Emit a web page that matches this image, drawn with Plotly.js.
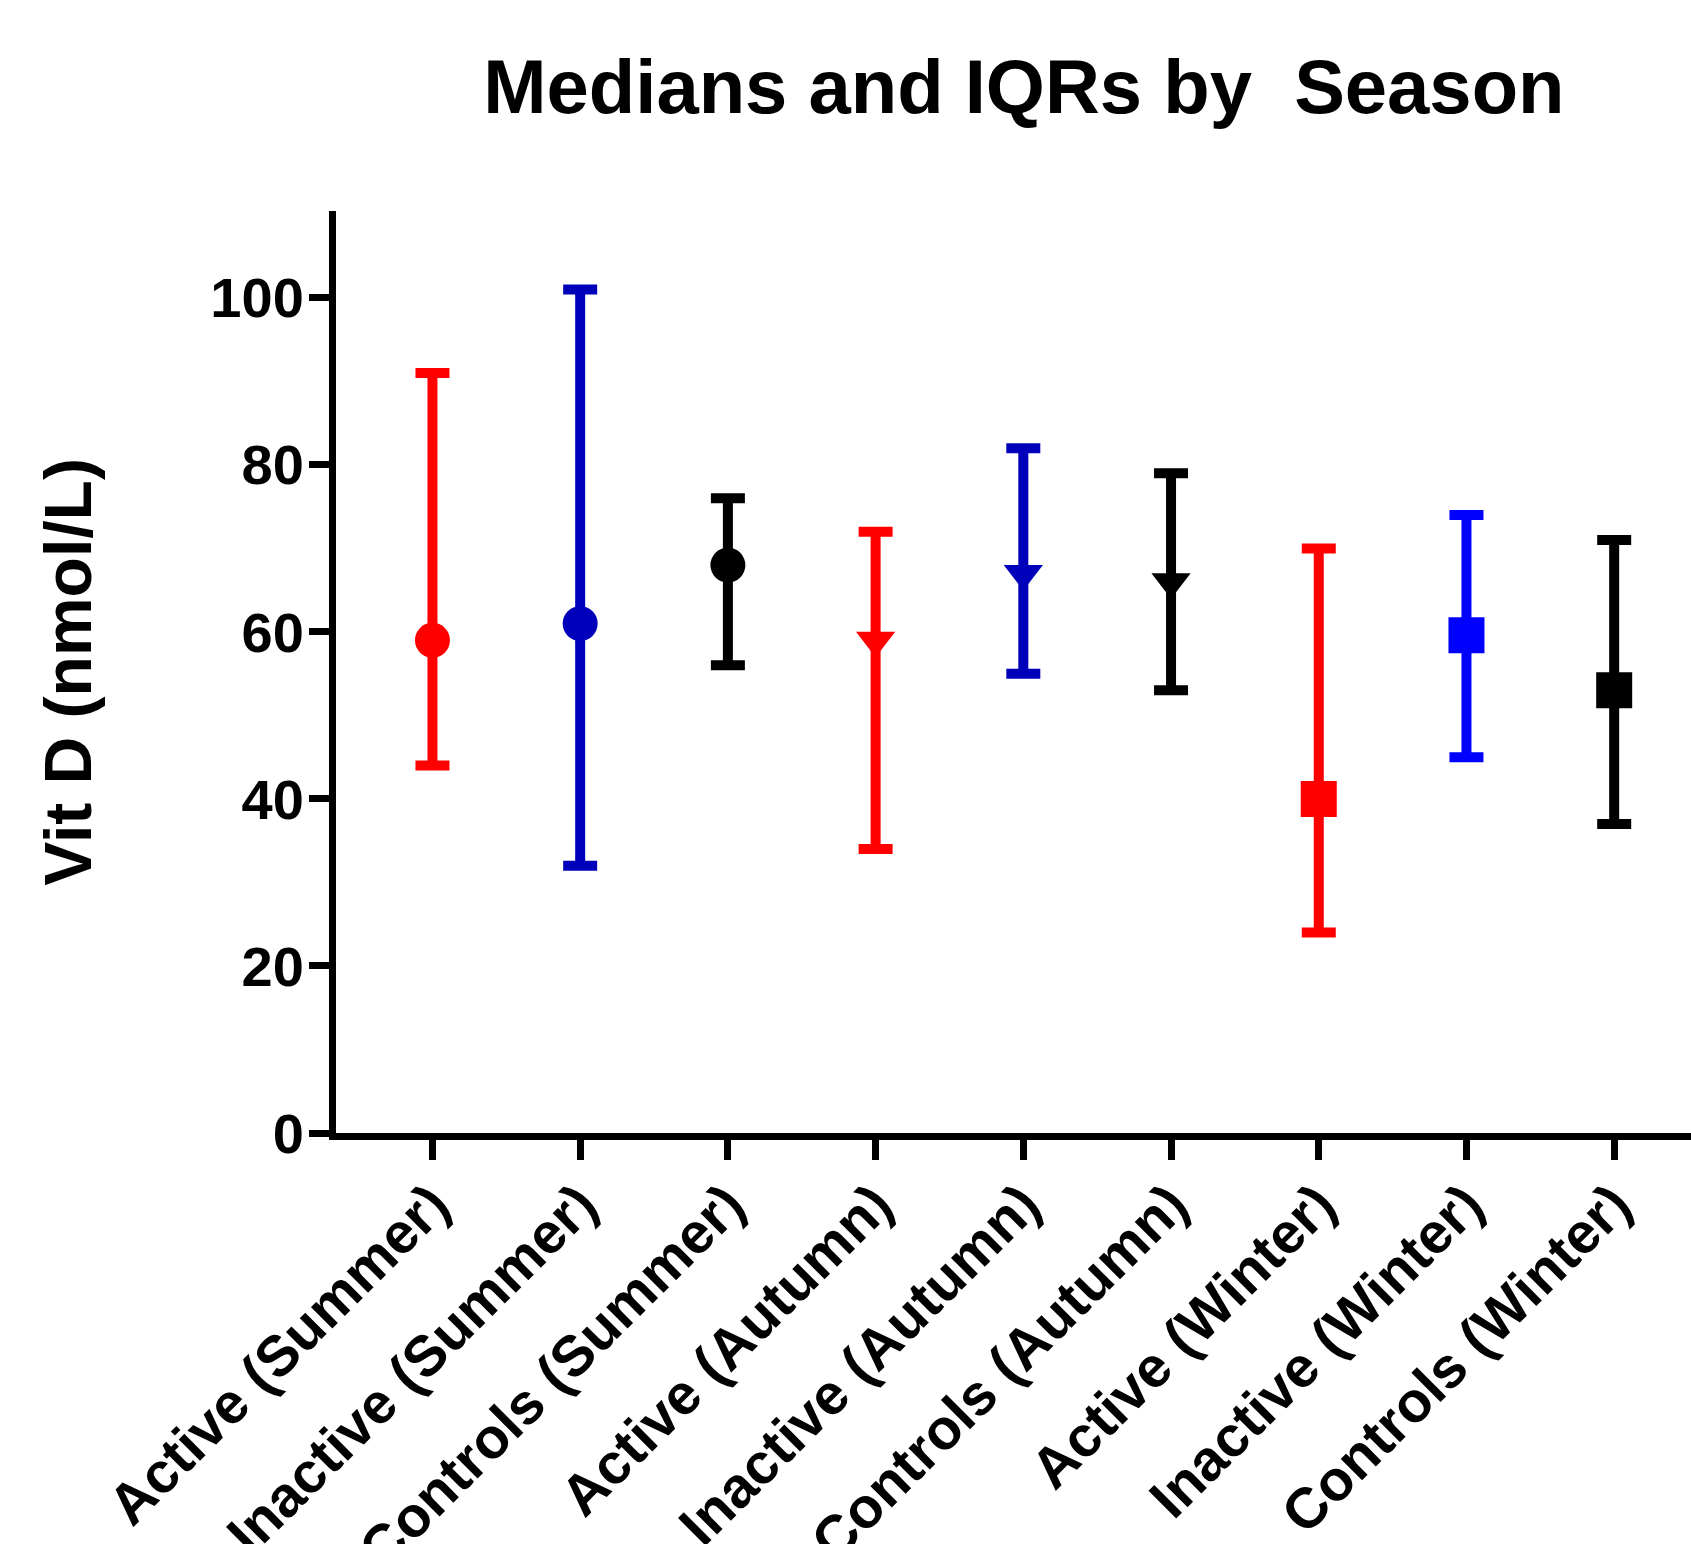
<!DOCTYPE html>
<html>
<head>
<meta charset="utf-8">
<script src="https://cdn.plot.ly/plotly-3.0.1.min.js"></script>
<style>html,body{margin:0;padding:0;background:#fff;}#chart{width:1691px;height:1544px;}</style>
</head>
<body>
<div id="chart"></div>
<script>
const categories = ["Active (Summer)", "Inactive (Summer)", "Controls (Summer)",
                    "Active (Autumn)", "Inactive (Autumn)", "Controls (Autumn)",
                    "Active (Winter)", "Inactive (Winter)", "Controls (Winter)"];
const medians = [59, 61, 68, 59, 67, 66, 40, 59.6, 53];
const q1 = [44, 32, 56, 34, 55, 53, 24, 45, 37];
const q3 = [91, 101, 76, 72, 82, 79, 70, 74, 71];
const yTicks = [0, 20, 40, 60, 80, 100];

const colors = ["#ff0000", "#0000bb", "#000000", "#ff0000", "#0000bb", "#000000", "#ff0000", "#0000ff", "#000000"];
const symbols = ["circle", "circle", "circle", "triangle-down", "triangle-down", "triangle-down", "square", "square", "square"];
const sizes = { "circle": 35, "triangle-down": 34, "square": 36 };

const FONT = "Liberation Sans, Arial, Helvetica, sans-serif";

const traces = categories.map((c, i) => ({
  type: "scatter",
  mode: "markers",
  x: [c],
  y: [medians[i]],
  marker: { color: colors[i], symbol: symbols[i], size: sizes[symbols[i]], line: { width: 0 } },
  error_y: {
    type: "data", symmetric: false,
    array: [q3[i] - medians[i]],
    arrayminus: [medians[i] - q1[i]],
    color: colors[i], thickness: 10, width: 17
  },
  showlegend: false,
  hoverinfo: "x+y"
}));

const layout = {
  width: 1691, height: 1544,
  paper_bgcolor: "#ffffff", plot_bgcolor: "#ffffff",
  margin: { l: 336, r: 0, t: 211, b: 411 },
  font: { family: FONT, color: "#000000", weight: 700 },
  title: {
    text: "Medians and IQRs by \u00A0Season",
    font: { family: FONT, size: 76, color: "#000000", weight: 700 },
    x: 0.6055, xanchor: "center", xref: "container",
    y: 0.944, yanchor: "middle", yref: "container"
  },
  xaxis: {
    type: "category",
    categoryorder: "array", categoryarray: categories,
    range: [-0.653, 8.52],
    showline: true, linecolor: "#000000", linewidth: 7,
    showgrid: false, zeroline: false,
    ticks: "outside", ticklen: 20, tickwidth: 7, tickcolor: "#000000",
    tickangle: -45,
    ticklabelstandoff: -12,
    tickfont: { family: FONT, size: 57, color: "#000000", weight: 700 },
    automargin: false
  },
  yaxis: {
    range: [0, 110.4],
    tickvals: yTicks,
    ticktext: yTicks.map(String),
    showline: true, linecolor: "#000000", linewidth: 7,
    showgrid: false, zeroline: false,
    ticks: "outside", ticklen: 20, tickwidth: 7, tickcolor: "#000000",
    ticklabelstandoff: -6,
    tickfont: { family: FONT, size: 56, color: "#000000", weight: 700 },
    title: { text: "Vit D (nmol/L)", font: { family: FONT, size: 66, color: "#000000", weight: 700 }, standoff: 100 },
    automargin: false
  }
};

Plotly.newPlot("chart", traces, layout, { displayModeBar: false, staticPlot: true });
</script>
</body>
</html>
